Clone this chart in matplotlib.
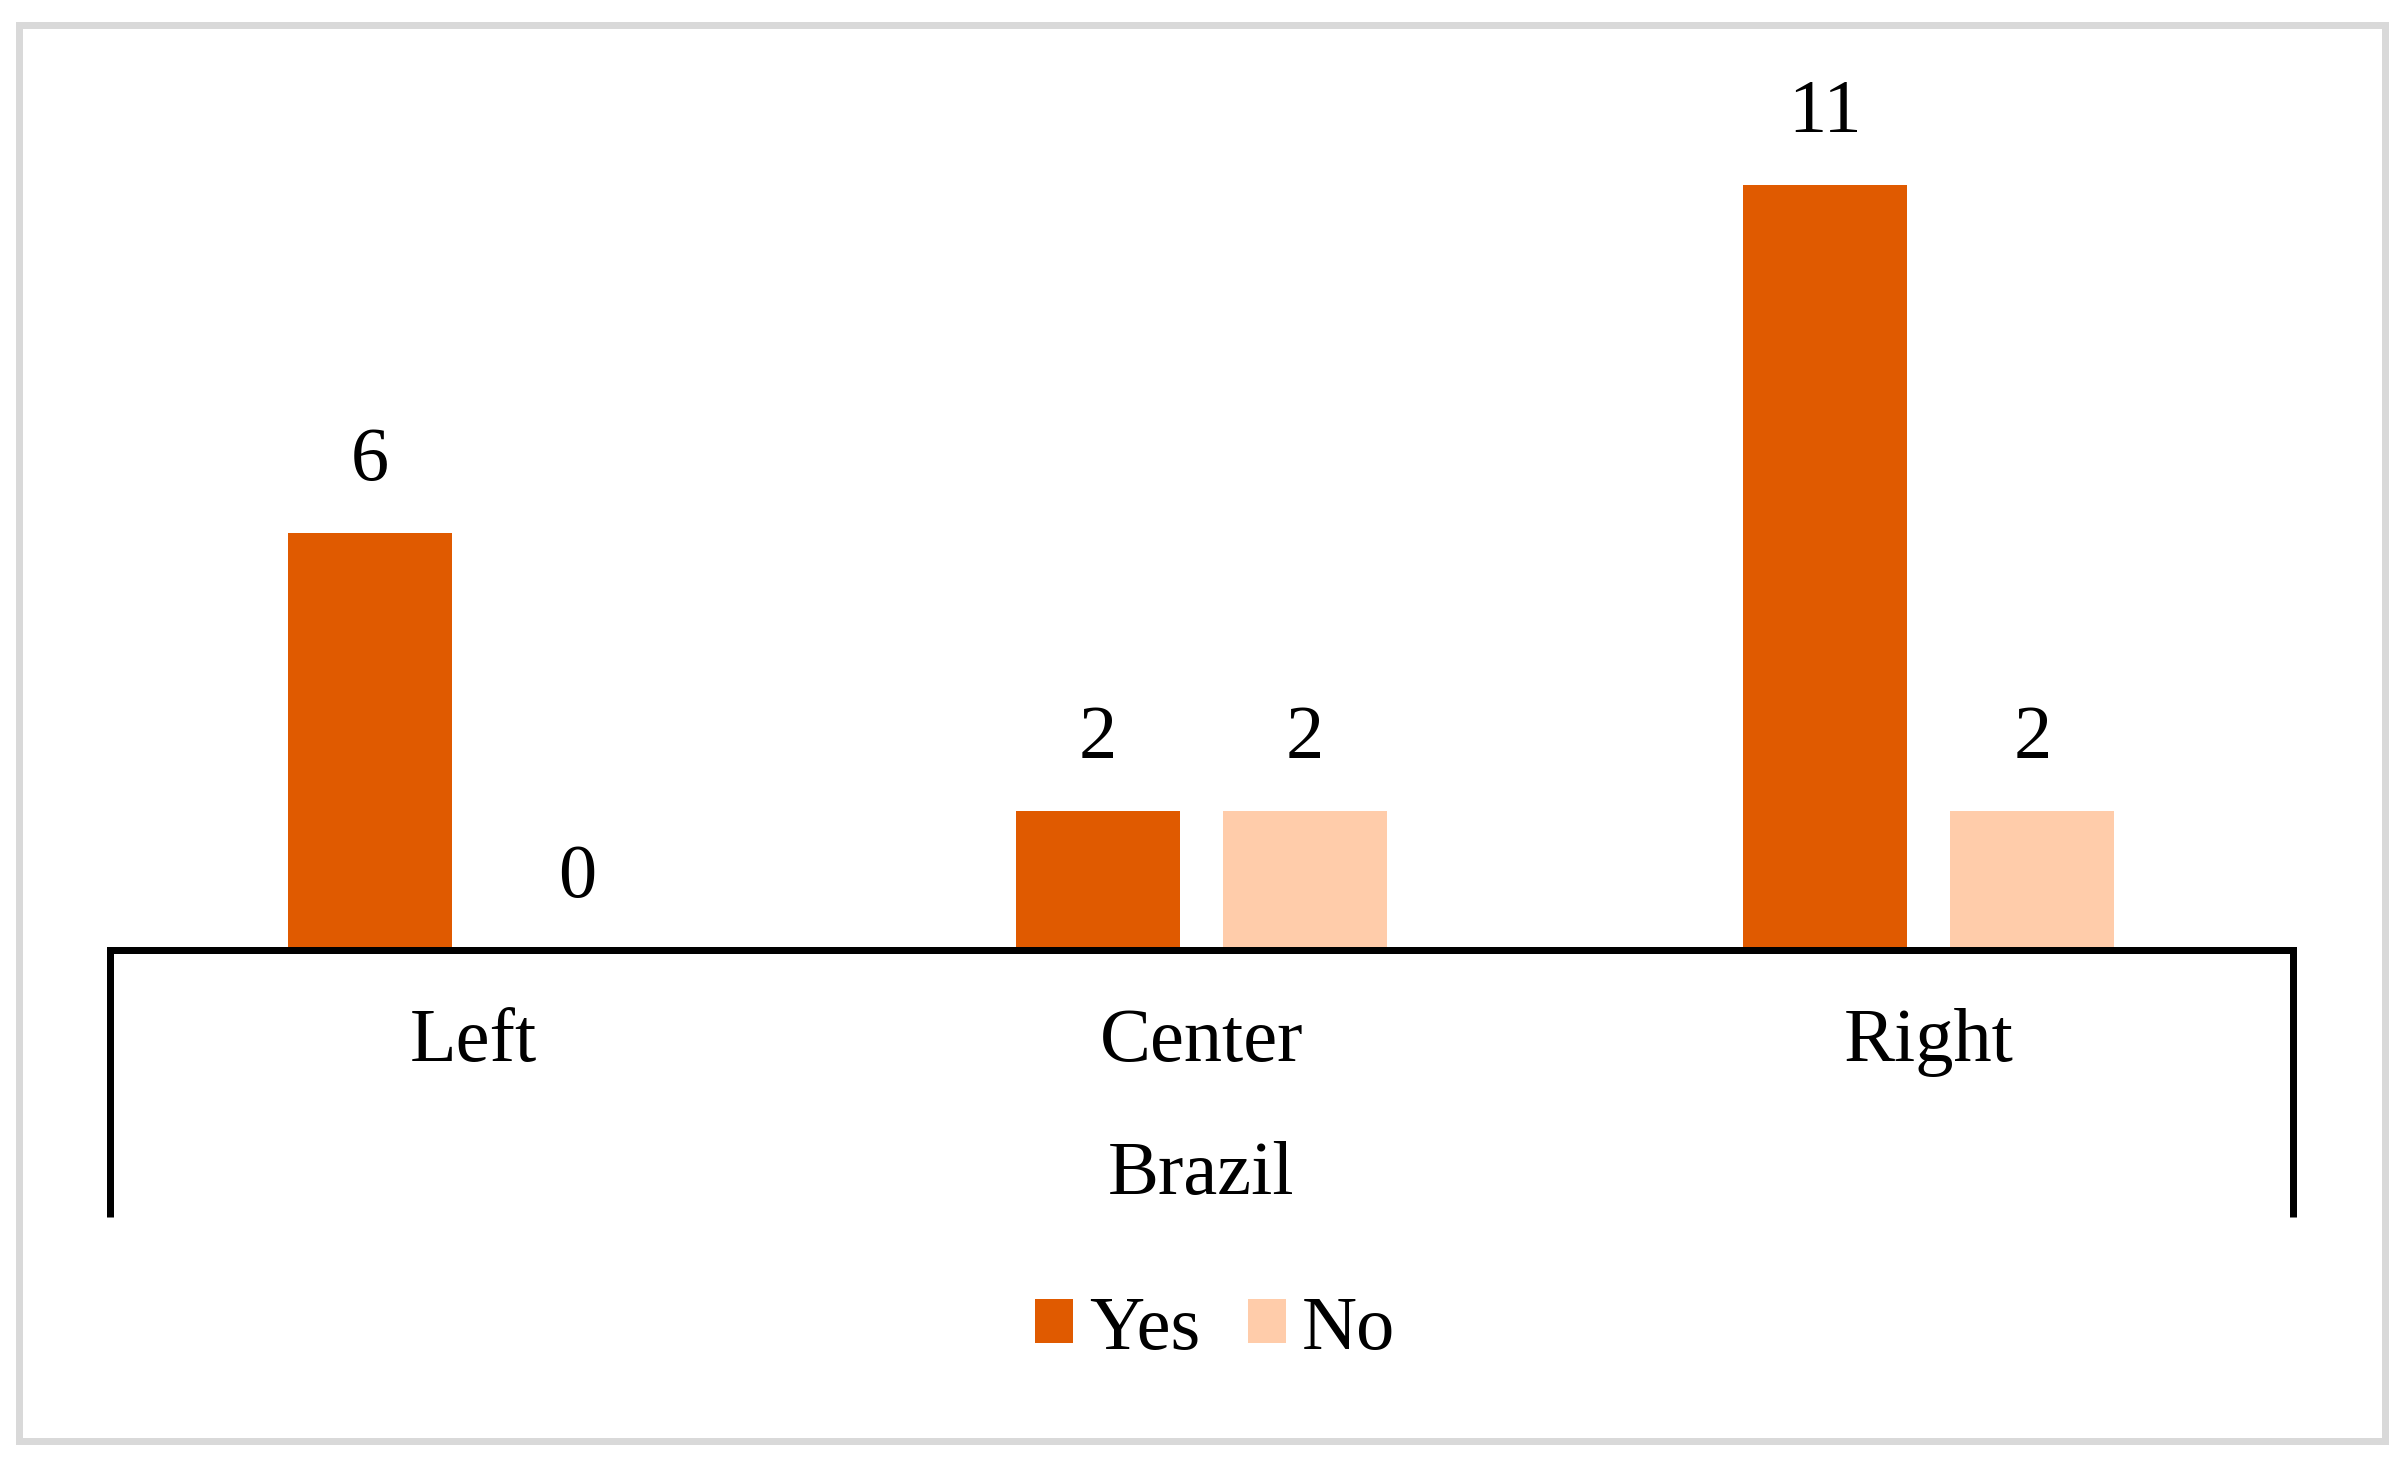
import matplotlib
matplotlib.use("Agg")
import matplotlib.pyplot as plt
from matplotlib.patches import Rectangle
from matplotlib.lines import Line2D
import numpy as np

categories = ["Left", "Center", "Right"]
group_label = "Brazil"
series_names = ["Yes", "No"]
yes_values = [6, 2, 11]
no_values = [0, 2, 2]

colors = {"Yes": "#E05A00", "No": "#FFCCAA"}

W, H = 2404, 1462
DPI = 100
plt.rcParams['font.family'] = ['Liberation Serif', 'DejaVu Serif']
FS = 55
PX = 72.0 / DPI  # points per pixel

fig = plt.figure(figsize=(W / DPI, H / DPI), dpi=DPI)

# pixel geometry
ax_left_px, ax_right_px = 110, 2292.5
base_px, top_px = 949.5, 21
px_per_unit = 69.5
ax = fig.add_axes([ax_left_px / W, (H - base_px) / H,
                   (ax_right_px - ax_left_px) / W, (base_px - top_px) / H])
ax.set_xlim(-0.5, 2.5)
ax.set_ylim(0, (base_px - top_px) / px_per_unit)

x = np.arange(len(categories))
width = 0.2254
off = 0.1423
b1 = ax.bar(x - off, yes_values, width, color=colors["Yes"], label="Yes")
b2 = ax.bar(x + off, no_values, width, color=colors["No"], label="No")

for bars, vals in ((b1, yes_values), (b2, no_values)):
    for rect, v in zip(bars, vals):
        ax.annotate(str(v), xy=(rect.get_x() + rect.get_width() / 2, v),
                    xytext=(0, 53 * PX), textcoords='offset points',
                    ha='center', va='baseline', fontsize=FS, color='black',
                    annotation_clip=False)

# spines
for s in ['top', 'left', 'right']:
    ax.spines[s].set_visible(False)
ax.spines['bottom'].set_linewidth(7 * PX)
ax.spines['bottom'].set_color('black')
ax.set_xticks([])
ax.set_yticks([])

# category labels
for xi, c in zip(x, categories):
    ax.annotate(c, xy=(xi, 0), xycoords=('data', 'axes fraction'),
                xytext=(0, -111.5 * PX), textcoords='offset points',
                ha='center', va='baseline', fontsize=FS, annotation_clip=False)
ax.annotate(group_label, xy=(np.mean(x), 0), xycoords=('data', 'axes fraction'),
            xytext=(0, -244.5 * PX), textcoords='offset points',
            ha='center', va='baseline', fontsize=FS, annotation_clip=False)

# vertical separators at the outer edges
for xp in (ax_left_px, ax_right_px):
    fig.add_artist(Line2D([xp / W, xp / W], [(H - base_px) / H, (H - 1217) / H],
                          transform=fig.transFigure, color='black',
                          linewidth=7 * PX, solid_capstyle='butt'))

# legend
fig.legend(handles=[b1, b2], labels=series_names, loc='center',
           bbox_to_anchor=(1215 / W, 1 - 1330 / H), ncol=2, frameon=False,
           fontsize=FS, handlelength=0.5, handleheight=0.51,
           handletextpad=0.21, columnspacing=0.62, borderpad=0,
           borderaxespad=0)

# outer frame
fig.add_artist(Rectangle((18.5 / W, (H - 1441) / H), (2384.5 - 18.5) / W,
                         (1441 - 24.5) / H, transform=fig.transFigure,
                         fill=False, edgecolor='#D9D9D9', linewidth=7 * PX))

fig.savefig("out.png", dpi=DPI)
